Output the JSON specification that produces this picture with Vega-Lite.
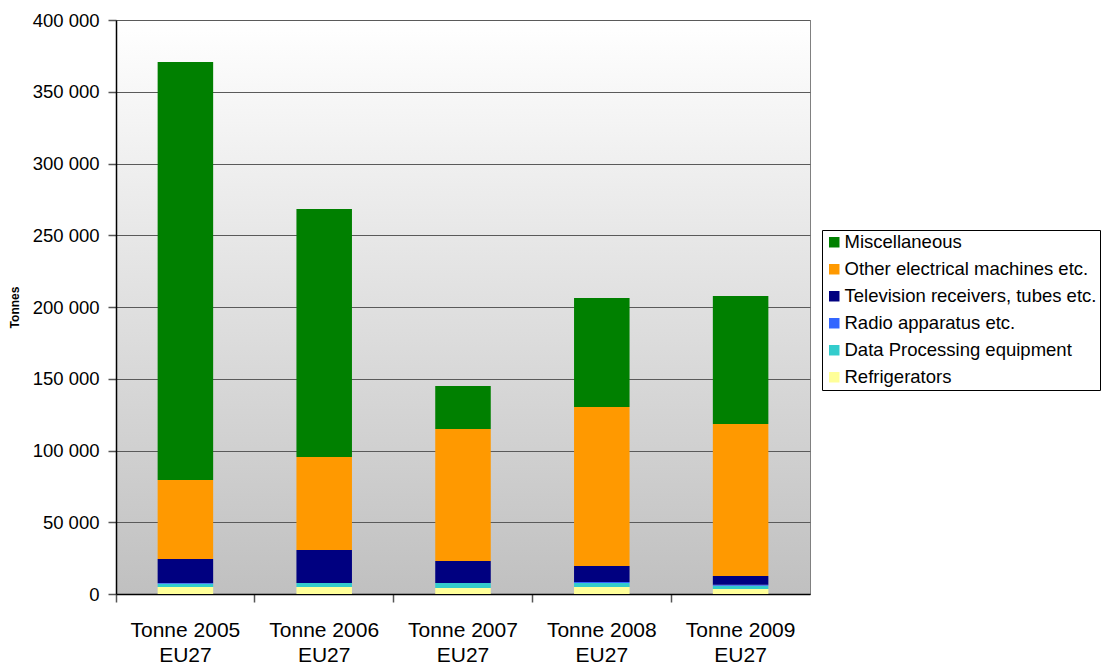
{
  "$schema": "https://vega.github.io/schema/vega-lite/v6.json",
  "autosize": "none",
  "width": 694,
  "height": 574,
  "padding": {"left": 116, "top": 20, "right": 292, "bottom": 70},
  "background": "white",
  "config": {
    "font": "Liberation Sans",
    "locale": {"number": {"decimal": ".", "thousands": " ", "grouping": [3], "currency": ["", ""]}},
    "view": {
      "stroke": "#808080",
      "strokeWidth": 1,
      "fill": {"gradient": "linear", "x1": 0, "y1": 0, "x2": 0, "y2": 1, "stops": [{"offset": 0, "color": "#ffffff"}, {"offset": 1, "color": "#c0c0c0"}]}
    }
  },
  "data": {
    "values": [
      {"cat": "Tonne 2005", "series": "Refrigerators", "k": 1, "v": 4900},
      {"cat": "Tonne 2005", "series": "Data Processing equipment", "k": 2, "v": 2300},
      {"cat": "Tonne 2005", "series": "Radio apparatus etc.", "k": 3, "v": 500},
      {"cat": "Tonne 2005", "series": "Television receivers, tubes etc.", "k": 4, "v": 16700},
      {"cat": "Tonne 2005", "series": "Other electrical machines etc.", "k": 5, "v": 55000},
      {"cat": "Tonne 2005", "series": "Miscellaneous", "k": 6, "v": 291300},
      {"cat": "Tonne 2006", "series": "Refrigerators", "k": 1, "v": 4900},
      {"cat": "Tonne 2006", "series": "Data Processing equipment", "k": 2, "v": 2700},
      {"cat": "Tonne 2006", "series": "Radio apparatus etc.", "k": 3, "v": 100},
      {"cat": "Tonne 2006", "series": "Television receivers, tubes etc.", "k": 4, "v": 23000},
      {"cat": "Tonne 2006", "series": "Other electrical machines etc.", "k": 5, "v": 64800},
      {"cat": "Tonne 2006", "series": "Miscellaneous", "k": 6, "v": 172800},
      {"cat": "Tonne 2007", "series": "Refrigerators", "k": 1, "v": 4200},
      {"cat": "Tonne 2007", "series": "Data Processing equipment", "k": 2, "v": 3400},
      {"cat": "Tonne 2007", "series": "Radio apparatus etc.", "k": 3, "v": 100},
      {"cat": "Tonne 2007", "series": "Television receivers, tubes etc.", "k": 4, "v": 15300},
      {"cat": "Tonne 2007", "series": "Other electrical machines etc.", "k": 5, "v": 92000},
      {"cat": "Tonne 2007", "series": "Miscellaneous", "k": 6, "v": 30000},
      {"cat": "Tonne 2008", "series": "Refrigerators", "k": 1, "v": 4900},
      {"cat": "Tonne 2008", "series": "Data Processing equipment", "k": 2, "v": 2800},
      {"cat": "Tonne 2008", "series": "Radio apparatus etc.", "k": 3, "v": 700},
      {"cat": "Tonne 2008", "series": "Television receivers, tubes etc.", "k": 4, "v": 11100},
      {"cat": "Tonne 2008", "series": "Other electrical machines etc.", "k": 5, "v": 110800},
      {"cat": "Tonne 2008", "series": "Miscellaneous", "k": 6, "v": 76000},
      {"cat": "Tonne 2009", "series": "Refrigerators", "k": 1, "v": 3500},
      {"cat": "Tonne 2009", "series": "Data Processing equipment", "k": 2, "v": 2300},
      {"cat": "Tonne 2009", "series": "Radio apparatus etc.", "k": 3, "v": 700},
      {"cat": "Tonne 2009", "series": "Television receivers, tubes etc.", "k": 4, "v": 6000},
      {"cat": "Tonne 2009", "series": "Other electrical machines etc.", "k": 5, "v": 106000},
      {"cat": "Tonne 2009", "series": "Miscellaneous", "k": 6, "v": 89200}
    ]
  },
  "mark": {"type": "bar", "width": {"band": 0.4}},
  "encoding": {
    "x": {
      "field": "cat", "type": "nominal",
      "scale": {"paddingInner": 0, "paddingOuter": 0},
      "axis": {
        "title": null, "labelAngle": 0, "bandPosition": 0,
        "labelExpr": "[datum.label, 'EU27']",
        "labelFontSize": 21, "labelColor": "#000", "labelPadding": 17, "labelLineHeight": 25,
        "domainColor": "#000", "domainWidth": 1.5,
        "tickColor": "#555", "tickSize": 8, "tickWidth": 1.5
      }
    },
    "y": {
      "field": "v", "type": "quantitative", "aggregate": "sum",
      "stack": "zero",
      "scale": {"domain": [0, 400000], "nice": false},
      "axis": {
        "title": "Tonnes", "titleFontSize": 12, "titleFontWeight": "bold", "titleColor": "#000",
        "titlePadding": 11,
        "values": [0, 50000, 100000, 150000, 200000, 250000, 300000, 350000, 400000],
        "format": ",d",
        "labelFontSize": 18.5, "labelColor": "#000", "labelPadding": 9,
        "grid": true, "gridColor": "#5a5a5a", "gridWidth": 1, "gridOpacity": 1,
        "domainColor": "#000", "domainWidth": 1.5,
        "tickColor": "#555", "tickSize": 8, "tickWidth": 1.5
      }
    },
    "color": {
      "field": "series", "type": "nominal",
      "scale": {
        "domain": ["Miscellaneous", "Other electrical machines etc.", "Television receivers, tubes etc.", "Radio apparatus etc.", "Data Processing equipment", "Refrigerators"],
        "range": ["#008000", "#ff9900", "#000080", "#3366ff", "#33cccc", "#ffff99"]
      },
      "legend": {
        "title": null, "orient": "none", "legendX": 706, "legendY": 210,
        "symbolType": "square", "symbolSize": 110, "symbolStrokeWidth": 0, "symbolOpacity": 1,
        "labelFontSize": 18.5, "labelColor": "#000", "labelLimit": 320,
        "rowPadding": 8, "strokeColor": "#000", "padding": 3, "fillColor": "#ffffff",
        "labelOffset": 1
      }
    },
    "order": {"field": "k", "type": "quantitative", "sort": "ascending"}
  }
}
